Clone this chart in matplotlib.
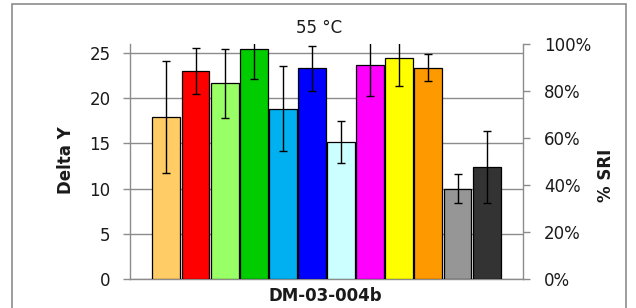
import numpy as np
from matplotlib import pyplot as plt
from matplotlib.patches import Rectangle
from matplotlib.ticker import PercentFormatter

# Delta Y per sample, with error half-widths
values = [17.9, 23.0, 21.65, 25.5, 18.85, 23.3, 15.15, 23.65, 24.4, 23.4, 10.0, 12.4]
errors = [6.2, 2.55, 3.85, 3.4, 4.7, 2.5, 2.3, 3.4, 3.1, 1.45, 1.6, 3.95]
colors = ["#FFCC66", "#FF0000", "#99FF66", "#00CC00", "#00B0F0", "#0000FF",
          "#CCFFFF", "#FF00FF", "#FFFF00", "#FF9900", "#969696", "#333333"]
left_ticks = [0, 5, 10, 15, 20, 25]
right_ticks = [0, 0.2, 0.4, 0.6, 0.8, 1.0]

GRAY = "#8c8c8c"
TXT = "#1a1a1a"

plt.rcParams["font.family"] = "DejaVu Sans"

fig = plt.figure(figsize=(6.36, 3.08), dpi=100)
ax = fig.add_axes([130 / 636, 29 / 308, 393 / 636, 235 / 308])

x = np.arange(len(values))
ax.bar(x, values, width=0.96, color=colors, edgecolor="black", linewidth=0.9, zorder=3)
ax.errorbar(x, values, yerr=errors, fmt="none", ecolor="black", elinewidth=1,
            capsize=3, capthick=1, zorder=4)

ax.set_xlim(-1.25, len(values) + 0.25)
ax.set_ylim(0, 26)
ax.set_yticks(left_ticks)
ax.set_xticks([])
ax.grid(axis="y", color=GRAY, linewidth=1, zorder=0)
ax.tick_params(axis="y", direction="out", length=5, width=1, color=GRAY,
               labelsize=12, labelcolor=TXT, pad=9)
for s in ["top", "right"]:
    ax.spines[s].set_visible(False)
for s in ["left", "bottom"]:
    ax.spines[s].set_color(GRAY)
    ax.spines[s].set_linewidth(1)

ax2 = ax.twinx()
ax2.set_ylim(0, 1)
ax2.set_yticks(right_ticks)
ax2.yaxis.set_major_formatter(PercentFormatter(1.0, decimals=0))
ax2.tick_params(axis="y", direction="out", length=5, width=1, color=GRAY,
                labelsize=12, labelcolor=TXT, pad=10)
for s in ["top", "left", "bottom"]:
    ax2.spines[s].set_visible(False)
ax2.spines["right"].set_color(GRAY)
ax2.spines["right"].set_linewidth(1)

fig.text(319 / 636, 1 - 28 / 308, "55 °C", ha="center", va="center",
         fontsize=12, color=TXT)
fig.text(325 / 636, 1 - 296 / 308, "DM-03-004b", ha="center", va="center",
         fontsize=12, fontweight="bold", color=TXT)
fig.text(66 / 636, 1 - 160 / 308, "Delta Y", ha="center", va="center",
         rotation=90, fontsize=12, fontweight="bold", color=TXT)
fig.text(606 / 636, 1 - 175 / 308, "% SRI", ha="center", va="center",
         rotation=90, fontsize=12, fontweight="bold", color=TXT)

fig.patches.append(Rectangle((12 / 636, -0.02), 614 / 636, 304 / 308 + 0.02,
                             transform=fig.transFigure, fill=False,
                             edgecolor=GRAY, linewidth=1.2))

fig.savefig("out.png", dpi=100)
